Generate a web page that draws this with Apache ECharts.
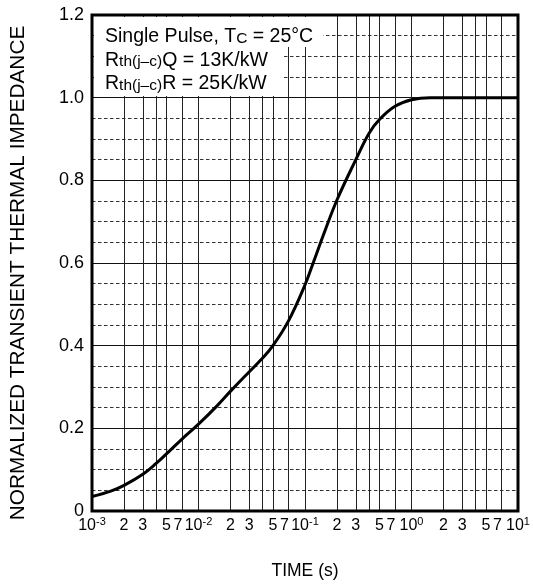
<!DOCTYPE html>
<html>
<head>
<meta charset="utf-8">
<script src="https://cdn.jsdelivr.net/npm/echarts@6/dist/echarts.min.js"></script>
<style>
html,body{margin:0;padding:0;background:#fff;}
#chart{width:533px;height:585px;}
</style>
</head>
<body>
<div id="chart"></div>
<script>
// ---- data ----
const times = [0.001, 0.0015, 0.002, 0.003, 0.004, 0.005, 0.007, 0.01, 0.015, 0.02, 0.03, 0.04, 0.05, 0.07, 0.1, 0.12, 0.15, 0.2, 0.3, 0.4, 0.5, 0.7, 1, 1.5, 2, 3, 5, 7, 10];
const impedance = [0.035, 0.048, 0.062, 0.089, 0.115, 0.138, 0.174, 0.210, 0.255, 0.290, 0.337, 0.370, 0.400, 0.460, 0.547, 0.602, 0.670, 0.753, 0.850, 0.914, 0.947, 0.979, 0.995, 1.0, 1.0, 1.0, 1.0, 1.0, 1.0];

const xTickValues = [0.001, 0.002, 0.003, 0.004, 0.005, 0.007,
                     0.01, 0.02, 0.03, 0.04, 0.05, 0.07,
                     0.1, 0.2, 0.3, 0.4, 0.5, 0.7,
                     1, 2, 3, 4, 5, 7, 10];
const xTickLabels = ['10^-3', '2', '3', '', '5', '7',
                     '10^-2', '2', '3', '', '5', '7',
                     '10^-1', '2', '3', '', '5', '7',
                     '10^0', '2', '3', '', '5', '7', '10^1'];
const yTickValues = [0, 0.2, 0.4, 0.6, 0.8, 1.0, 1.2];
const yTickLabels = ['0', '0.2', '0.4', '0.6', '0.8', '1.0', '1.2'];

const annotationLines = [
  [['n', 'Single Pulse, T'], ['s', 'C'], ['n', ' = 25°C']],
  [['n', 'R'], ['s', 'th(j–c)'], ['n', 'Q = 13K/kW']],
  [['n', 'R'], ['s', 'th(j–c)'], ['n', 'R = 25K/kW']]
];
const xAxisTitle = 'TIME (s)';
const yAxisTitle = 'NORMALIZED TRANSIENT THERMAL IMPEDANCE';

// ---- chart ----
const FONT = '"Liberation Sans", Arial, Helvetica, sans-serif';
const chart = echarts.init(document.getElementById('chart'), null, {renderer: 'canvas'});

const logTicks = xTickValues.map(v => Math.log10(v));
const LOG_MIN = logTicks[0];
const LOG_MAX = logTicks[logTicks.length - 1];
// a hidden guard tick just past the last decade so that the 10^1 label is not
// treated as the axis "max label" (which would hide the neighbouring "7")
const guardTick = LOG_MAX + 1e-5;
function xLabel(v) {
  let idx = -1;
  for (let i = 0; i < logTicks.length; i++) {
    if (Math.abs(logTicks[i] - v) < 1e-7) { idx = i; break; }
  }
  if (idx < 0) return '';
  const lab = xTickLabels[idx];
  if (!lab) return '';
  if (lab.indexOf('^') >= 0) {
    const parts = lab.split('^');
    return '{d|' + parts[0] + '}{sup|' + parts[1] + '}';
  }
  if (lab === '7') return '{seven|7}';
  return '{d|' + lab + '}';
}

const richText = annotationLines.map(line => line.map(t => '{' + t[0] + '|' + t[1] + '}').join('')).join('\n');

const option = {
  animation: false,
  backgroundColor: '#fff',
  textStyle: {fontFamily: FONT},
  grid: {
    left: 92, right: 15, top: 15, bottom: 74,
    show: true, borderColor: '#000', borderWidth: 3, backgroundColor: 'transparent',
    z: 10
  },
  xAxis: [
    {
      type: 'log', logBase: 10, min: 0.001, max: 10,
      axisLine: {show: false}, axisTick: {show: false}, axisLabel: {show: false},
      splitLine: {show: false}, minorSplitLine: {show: false},
      name: xAxisTitle, nameLocation: 'middle', nameGap: 51,
      nameTextStyle: {fontSize: 17.5, color: '#000', fontFamily: FONT}
    },
    {
      type: 'value', min: LOG_MIN, max: guardTick,
      position: 'bottom',
      axisLine: {show: false},
      axisTick: {show: false, customValues: logTicks.concat([guardTick])},
      splitLine: {show: true, lineStyle: {color: '#222', width: 1}},
      axisLabel: {
        show: true, customValues: logTicks.concat([guardTick]), margin: 5,
        showMinLabel: true, showMaxLabel: false, hideOverlap: false,
        formatter: xLabel, color: '#000',
        rich: {
          d: {fontSize: 16, fontFamily: FONT, color: '#000', lineHeight: 18, verticalAlign: 'bottom'},
          sup: {fontSize: 11, fontFamily: FONT, color: '#000', verticalAlign: 'top', lineHeight: 12},
          seven: {fontSize: 16, fontFamily: FONT, color: '#000', lineHeight: 18, verticalAlign: 'bottom', padding: [0, 8, 0, 0]}
        }
      }
    }
  ],
  yAxis: {
    type: 'value', min: 0, max: 1.2, interval: 0.2,
    axisLine: {show: false}, axisTick: {show: false},
    axisLabel: {
      fontSize: 18, color: '#000', margin: 8, fontFamily: FONT,
      formatter: v => {
        for (let i = 0; i < yTickValues.length; i++) {
          if (Math.abs(yTickValues[i] - v) < 1e-6) return yTickLabels[i];
        }
        return '';
      }
    },
    splitLine: {show: true, lineStyle: {color: '#111', width: 1}},
    minorTick: {show: false, splitNumber: 4},
    minorSplitLine: {show: true, lineStyle: {color: '#333', width: 1, type: [3.5, 2.5]}},
    name: yAxisTitle, nameLocation: 'middle', nameGap: 63, nameRotate: 90,
    nameTextStyle: {fontSize: 20.8, color: '#000', fontFamily: FONT, padding: [0, 20, 0, 0]}
  },
  graphic: [
    {type: 'rect', shape: {x: 94, y: 17, width: 229, height: 30}, style: {fill: '#fff'}, z: 20},
    {type: 'rect', shape: {x: 94, y: 47, width: 189, height: 49}, style: {fill: '#fff'}, z: 20},
    {
      type: 'text', x: 105, y: 25, z: 21,
      style: {
        text: richText, fill: '#000', fontFamily: FONT, fontSize: 19.5, lineHeight: 23.5,
        rich: {
          n: {fontSize: 19.5, fontFamily: FONT, fill: '#000', lineHeight: 23.5, verticalAlign: 'middle'},
          s: {fontSize: 15.5, fontFamily: FONT, fill: '#000', lineHeight: 23.5, verticalAlign: 'middle', padding: [3, 0, 0, 0]}
        }
      }
    }
  ],
  series: [{
    type: 'line',
    xAxisIndex: 0, yAxisIndex: 0,
    data: times.map((t, i) => [t, impedance[i]]),
    smooth: 0.4,
    showSymbol: false,
    lineStyle: {color: '#000', width: 3},
    z: 5
  }]
};
chart.setOption(option);
</script>
</body>
</html>
